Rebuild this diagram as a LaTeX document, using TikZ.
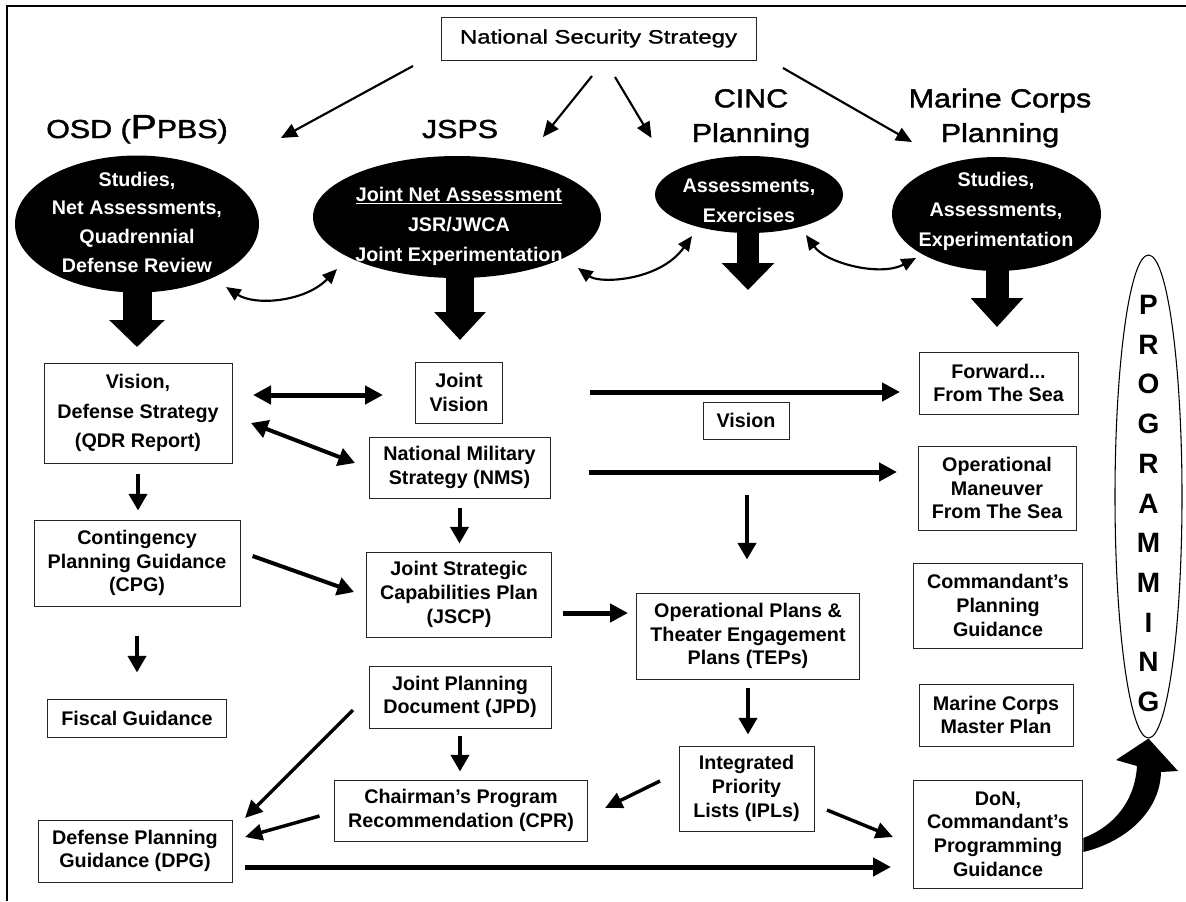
\documentclass[tikz,border=0pt]{standalone}
\usepackage{fontspec}
\setmainfont{Liberation Sans}
\newfontfamily\headfont{Liberation Sans}[FakeStretch=1.17,FakeBold=1.6]
\newfontfamily\nssfont{Liberation Sans}[FakeStretch=1.24,FakeBold=1.2]
\usetikzlibrary{arrows.meta,shapes.geometric,calc}
\newdimen\pxu
\pxu=0.75pt
\begin{document}
\begin{tikzpicture}[x=0.75pt,y=-0.75pt,
 box/.style={draw=black!85,line width=0.75pt,inner sep=0pt,align=center,font=\bfseries\fontsize{14.8}{17.8}\selectfont},
 ell/.style={ellipse,fill=black,inner sep=0pt},
 etext/.style={text=white,inner sep=0pt,align=center,font=\bfseries\fontsize{14.8}{22.5}\selectfont},
 head/.style={inner sep=0pt,align=center,font=\headfont\fontsize{19.5}{26}\selectfont},
 thinar/.style={line width=1.6pt,-{Triangle[length=12pt,width=10.5pt]}},
 curvar/.style={line width=1.6pt,{Triangle[length=11pt,width=9.5pt]}-{Triangle[length=11pt,width=9.5pt]}},
 medar/.style={line width=3pt,-{Triangle[length=12.5pt,width=13.5pt]}},
 dmedar/.style={line width=3pt,{Triangle[length=12.5pt,width=13.5pt]}-{Triangle[length=12.5pt,width=13.5pt]}},
 diagar/.style={line width=2.6pt,-{Triangle[length=13pt,width=12pt]}},
 thickar/.style={line width=3.75pt,-{Triangle[length=13.5pt,width=13.5pt]}},
 dthickar/.style={line width=3.75pt,{Triangle[length=13.5pt,width=13.5pt]}-{Triangle[length=13.5pt,width=13.5pt]}}
]
\useasboundingbox (0,0) rectangle (1186,901);
% frame
\draw[line width=1.9pt] (7,901) -- (7,6) -- (1186,6);

% top box
\node[box,font=\nssfont\fontsize{14.5}{17}\selectfont,minimum width=315\pxu,minimum height=43\pxu] (nss) at (598.5,38.5) {National Security Strategy};

% headings
\node[head,anchor=base] (osdh) at (137,138) {OSD ({\fontsize{25}{26}\selectfont P}PBS)};
\node[head,anchor=base] (jspsh) at (460,138) {JSPS};
\node[head,anchor=base] (cinch) at (751,142) {CINC\\Planning};
\node[head,anchor=base] (mch) at (1000,142) {Marine Corps\\Planning};

% ellipses
\node[ell,minimum width=244\pxu,minimum height=137\pxu] (osd) at (137,224) {};
\node[ell,minimum width=288\pxu,minimum height=122\pxu] (jsps) at (457,217) {};
\node[ell,minimum width=188\pxu,minimum height=77\pxu] (cinc) at (749,194.5) {};
\node[ell,minimum width=209\pxu,minimum height=114\pxu] (mc) at (996.5,214) {};

% fat down arrows
\coordinate (osdtip) at (137,347);
\coordinate (jspstip) at (460,340);
\coordinate (cinctip) at (748,290);
\coordinate (mctip) at (997,327);
\draw[line width=21.75pt,-{Triangle[length=20.25pt,width=40.5pt]}] (osd.center -| osdtip) -- (osdtip);
\draw[line width=21pt,-{Triangle[length=21pt,width=37.5pt]}] (jsps.center -| jspstip) -- (jspstip);
\draw[line width=16.5pt,-{Triangle[length=20.25pt,width=38.25pt]}] (cinc.center -| cinctip) -- (cinctip);
\draw[line width=17.25pt,-{Triangle[length=21.75pt,width=38.25pt]}] (mc.center -| mctip) -- (mctip);

% ellipse texts
\node[etext,font=\bfseries\fontsize{14.8}{21.5}\selectfont] (osdt) at (137,222) {Studies,\\Net Assessments,\\Quadrennial\\Defense Review};
\node[etext] (jspst) at (459,226) {\underline{Joint Net Assessment}\\JSR/JWCA\\Joint Experimentation};
\node[etext] (cinct) at (749,201) {Assessments,\\Exercises};
\node[etext] (mct) at (996,211) {Studies,\\Assessments,\\Experimentation};

% NSS arrows
\coordinate (n1) at (413,66); \coordinate (t1) at (281,138);
\coordinate (n2) at (592,76); \coordinate (t2) at (543,137);
\coordinate (n3) at (615,77); \coordinate (t3) at (651.5,138);
\coordinate (n4) at (783,68); \coordinate (t4) at (912,142);
\draw[thinar] (n1) -- (t1);
\draw[thinar] (n2) -- (t2);
\draw[thinar] (n3) -- (t3);
\draw[thinar] (n4) -- (t4);

% curved double arrows between ellipses
\coordinate (c1a) at (226,287); \coordinate (c1b) at (337,269);
\coordinate (c2a) at (578,268); \coordinate (c2b) at (692,236);
\coordinate (c3a) at (806,235); \coordinate (c3b) at (916,258);
\draw[curvar] (c1a) .. controls (255,306) and (305,302) .. (c1b);
\draw[curvar] (c2a) .. controls (600,284) and (660,281) .. (c2b);
\draw[curvar] (c3a) .. controls (826,263) and (880,277) .. (c3b);

% boxes
\node[box,font=\bfseries\fontsize{14.8}{22}\selectfont,minimum width=188\pxu,minimum height=100\pxu] (vds) at (138,413) {Vision,\\Defense Strategy\\(QDR Report)};
\node[box,minimum width=86.5\pxu,minimum height=61\pxu] (jv) at (459,392.5) {Joint\\Vision};
\node[box,minimum width=181\pxu,minimum height=61\pxu] (nms) at (459.5,467.5) {National Military\\Strategy (NMS)};
\node[box,minimum width=206\pxu,minimum height=86\pxu] (cpg) at (137,563) {Contingency\\Planning Guidance\\(CPG)};
\node[box,minimum width=185\pxu,minimum height=85\pxu] (jscp) at (459,594.5) {Joint Strategic\\Capabilities Plan\\(JSCP)};
\node[box,minimum width=178.5\pxu,minimum height=38\pxu] (fisc) at (137,718) {Fiscal Guidance};
\node[box,minimum width=182\pxu,minimum height=62\pxu] (jpd) at (460,697) {Joint Planning\\Document (JPD)};
\node[box,minimum width=253.5\pxu,minimum height=61\pxu] (cpr) at (461,810.5) {Chairman's Program\\Recommendation (CPR)};
\node[box,minimum width=194\pxu,minimum height=62\pxu] (dpg) at (135,851) {Defense Planning\\Guidance (DPG)};
\node[box,minimum width=159\pxu,minimum height=62\pxu] (fwd) at (998.5,383) {Forward...\\From The Sea};
\node[box,minimum width=86\pxu,minimum height=37\pxu] (vis) at (746,420.5) {Vision};
\node[box,minimum width=158\pxu,minimum height=84\pxu] (omfts) at (997,488) {Operational\\Maneuver\\From The Sea};
\node[box,minimum width=169.5\pxu,minimum height=85\pxu] (cpgd) at (998,605.5) {Commandant's\\Planning\\Guidance};
\node[box,minimum width=223.5\pxu,minimum height=86\pxu] (opp) at (748,636) {Operational Plans \&\\Theater Engagement\\Plans (TEPs)};
\node[box,minimum width=135\pxu,minimum height=85\pxu] (ipl) at (746.5,788.5) {Integrated\\Priority\\Lists (IPLs)};
\node[box,minimum width=154\pxu,minimum height=62\pxu] (mcmp) at (996,715) {Marine Corps\\Master Plan};
\node[box,minimum width=169.5\pxu,minimum height=108\pxu] (don) at (998,834) {DoN,\\Commandant's\\Programming\\Guidance};

% programming ellipse
\node[ellipse,draw,line width=0.8pt,fill=white,inner sep=0pt,minimum width=67\pxu,minimum height=483\pxu] (prog) at (1148.5,496.5) {};
\node[inner sep=0pt,align=center,font=\bfseries\fontsize{21}{29.8}\selectfont] (progt) at (1148.5,503.5) {P\\R\\O\\G\\R\\A\\M\\M\\I\\N\\G};

% connectors between boxes
\coordinate (vjA) at (253,395); \coordinate (vjB) at (383,395);
\draw[dthickar] (vjA) -- (vjB);
\coordinate (vnA) at (251,423); \coordinate (vnB) at (355,463);
\draw[dmedar] (vnA) -- (vnB);
\coordinate (jfA) at (590,392); \coordinate (jfB) at (900,392);
\draw[thickar] (jfA) -- (jfB);
\coordinate (noA) at (588.5,472); \coordinate (noB) at (897,472);
\draw[thickar] (noA) -- (noB);
\coordinate (dnA) at (747,495);
\draw[medar,shorten >=24.75pt] (dnA) -- (dnA |- opp.north);
\coordinate (joA) at (562.6,613); \coordinate (joB) at (628,613);
\draw[thickar] (joA) -- (joB);
\coordinate (cjA) at (252.6,556); \coordinate (cjB) at (354,592);
\draw[medar] (cjA) -- (cjB);
\draw[medar,shorten <=7.5pt,shorten >=6.75pt] (vds.south) -- (vds.south |- cpg.north);
\draw[medar,shorten <=6.75pt,shorten >=6pt] (nms.south) -- (nms.south |- jscp.north);
\draw[medar,shorten <=21.75pt,shorten >=19.5pt] (cpg.south) -- (cpg.south |- fisc.north);
\draw[medar,shorten <=5.25pt,shorten >=6pt] (jpd.south) -- (jpd.south |- cpr.north);
\draw[medar,shorten <=6pt,shorten >=8.25pt] (opp.south) -- (opp.south |- ipl.north);
\coordinate (jdA) at (353,710); \coordinate (jdB) at (245,818);
\draw[diagar] (jdA) -- (jdB);
\coordinate (cdA) at (319.5,816); \coordinate (cdB) at (245,837);
\draw[diagar] (cdA) -- (cdB);
\coordinate (ddA) at (245,867); \coordinate (ddB) at (891,867);
\draw[thickar] (ddA) -- (ddB);
\coordinate (icA) at (660,781); \coordinate (icB) at (605,808);
\draw[diagar] (icA) -- (icB);
\coordinate (idA) at (827,810); \coordinate (idB) at (893,837);
\draw[diagar] (idA) -- (idB);

% big curved arrow to PROGRAMMING
\fill ($(don.east)+(0,4)$) .. controls (1115,826) and (1135,800) .. (1137,766)
  -- (1116,760) -- (prog.south) -- (1178,771) -- (1161,772)
  .. controls (1160,812) and (1125,842) .. ($(don.east)+(0,18)$) -- cycle;
\end{tikzpicture}
\end{document}
